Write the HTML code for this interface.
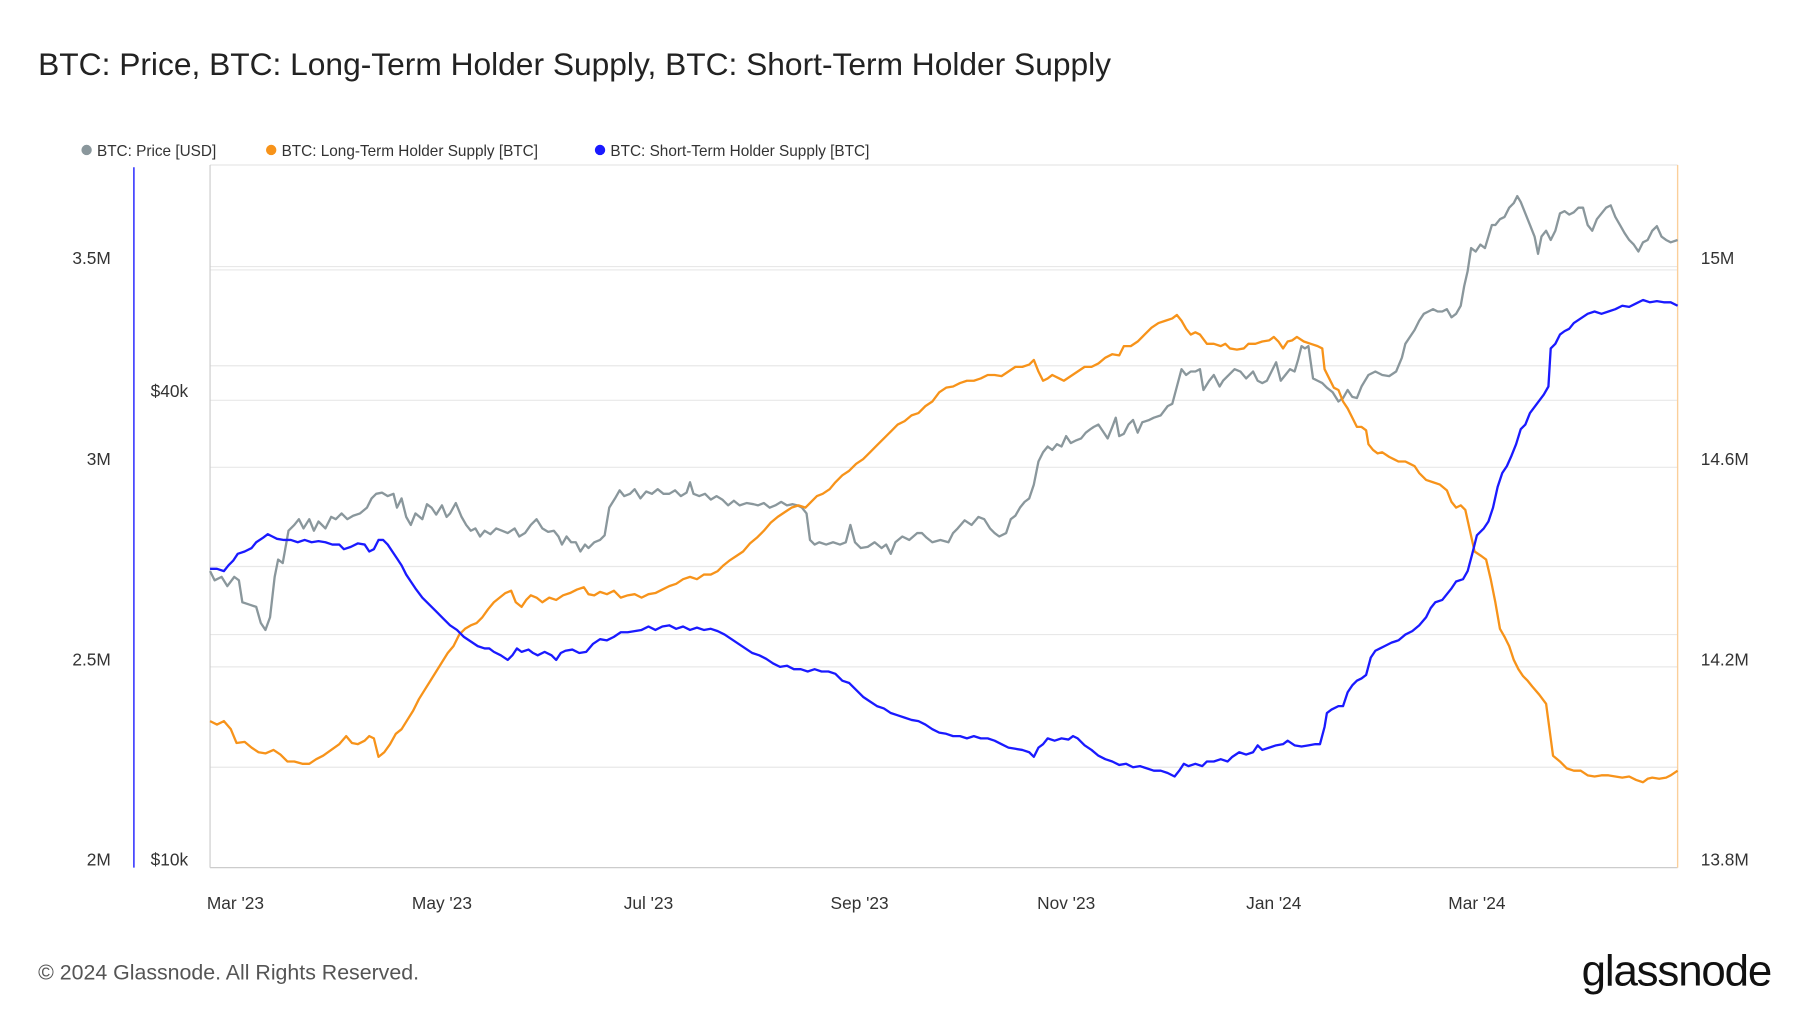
<!DOCTYPE html>
<html><head><meta charset="utf-8"><style>
html,body{margin:0;padding:0;background:#fff}
svg{display:block}
text{font-family:"Liberation Sans",sans-serif}
</style></head><body>
<svg width="1800" height="1013" viewBox="0 0 1560 878" xmlns="http://www.w3.org/2000/svg">
<text x="33" y="65" font-size="27.5" fill="#222">BTC: Price, BTC: Long-Term Holder Supply, BTC: Short-Term Holder Supply</text>
<circle cx="75" cy="130" r="4.5" fill="#8a979c"/><text x="84" y="135" font-size="13.3" fill="#333">BTC: Price [USD]</text>
<circle cx="235" cy="130" r="4.5" fill="#f7931a"/><text x="244" y="135" font-size="13.3" fill="#333">BTC: Long-Term Holder Supply [BTC]</text>
<circle cx="520" cy="130" r="4.5" fill="#1a1aff"/><text x="529" y="135" font-size="13.3" fill="#333">BTC: Short-Term Holder Supply [BTC]</text>
<g stroke="#e8e8e8" stroke-width="1">
<line x1="182" x2="1454" y1="231" y2="231"/><line x1="182" x2="1454" y1="234" y2="234"/>
<line x1="182" x2="1454" y1="317" y2="317"/><line x1="182" x2="1454" y1="347" y2="347"/>
<line x1="182" x2="1454" y1="405" y2="405"/><line x1="182" x2="1454" y1="491" y2="491"/>
<line x1="182" x2="1454" y1="550" y2="550"/>
<line x1="182" x2="1454" y1="578" y2="578"/><line x1="182" x2="1454" y1="665" y2="665"/>
<line x1="182" x2="1454" y1="143" y2="143"/>
</g>
<line x1="182" x2="182" y1="143" y2="752" stroke="#ccc"/>
<line x1="182" x2="1454" y1="752" y2="752" stroke="#ccc"/>
<line x1="116" x2="116" y1="145" y2="752" stroke="#1a1aff" stroke-width="1.2"/>
<line x1="1454" x2="1454" y1="143" y2="752" stroke="#fbcf9a" stroke-width="1.2"/>
<g font-size="15" fill="#333" text-anchor="end">
<text x="96" y="229">3.5M</text><text x="96" y="403">3M</text><text x="96" y="577">2.5M</text><text x="96" y="750">2M</text>
<text x="163" y="344">$40k</text><text x="163" y="750">$10k</text>
</g>
<g font-size="15" fill="#333">
<text x="1474" y="229">15M</text><text x="1474" y="403">14.6M</text><text x="1474" y="577">14.2M</text><text x="1474" y="750">13.8M</text>
</g>
<g font-size="15" fill="#333" text-anchor="middle">
<text x="204" y="788">Mar '23</text><text x="383" y="788">May '23</text><text x="562" y="788">Jul '23</text><text x="745" y="788">Sep '23</text><text x="924" y="788">Nov '23</text><text x="1104" y="788">Jan '24</text><text x="1280" y="788">Mar '24</text>
</g>
<g fill="none" stroke-width="2" stroke-linejoin="round">
<polyline stroke="#8a979c" points="182,495 186,503 192,500 197,508 203,500 207,503 210,522 216,524 222,526 226,540 230,546 234,535 238,500 241,485 245,488 250,460 255,455 259,450 263,458 268,450 272,460 276,452 282,458 287,448 291,450 296,445 301,450 306,447 312,445 318,440 322,432 326,428 331,427 336,430 341,428 344,440 348,432 352,448 356,455 360,445 366,450 370,437 374,440 378,446 383,438 387,448 390,445 395,436 400,448 404,455 408,460 412,458 416,465 420,460 425,463 430,458 435,460 440,462 446,458 450,465 455,462 460,455 465,450 470,458 475,461 480,460 484,465 487,472 491,465 495,470 499,470 503,478 507,472 510,475 515,470 520,468 524,464 528,440 533,432 537,425 541,430 546,428 550,424 555,432 560,426 565,428 570,424 575,428 580,428 585,425 590,430 595,427 598,418 601,428 606,430 611,428 616,433 621,430 626,433 631,438 636,434 641,438 647,436 653,437 657,438 662,436 667,440 672,438 677,435 682,438 687,437 691,438 695,440 699,445 702,468 706,472 710,470 716,472 722,470 728,472 733,470 737,455 741,470 746,475 752,474 758,470 764,475 768,472 772,480 776,470 782,465 788,468 795,462 799,462 803,466 808,470 815,468 822,470 826,462 830,458 836,451 842,455 848,448 853,450 858,458 862,462 866,465 872,462 876,450 880,447 884,440 888,435 892,432 896,420 900,400 904,392 908,387 912,390 916,385 920,387 924,378 928,384 932,382 937,380 941,375 945,372 948,370 952,368 956,374 960,380 964,370 967,362 970,378 974,376 978,368 982,364 986,375 990,366 996,364 1000,362 1006,360 1012,352 1016,350 1020,335 1024,320 1028,325 1032,322 1036,322 1040,320 1043,338 1048,330 1052,325 1057,335 1060,330 1065,325 1070,320 1075,322 1080,328 1086,322 1090,330 1094,332 1098,330 1102,322 1106,314 1110,330 1114,325 1118,320 1122,322 1125,312 1128,300 1131,302 1134,300 1138,328 1142,330 1146,332 1150,336 1155,340 1160,348 1164,345 1168,338 1172,344 1176,345 1180,335 1186,325 1192,322 1198,325 1204,326 1210,322 1215,310 1218,298 1222,292 1226,286 1230,278 1234,272 1238,270 1242,268 1246,270 1250,270 1254,268 1258,275 1262,272 1266,265 1269,248 1272,235 1275,215 1279,218 1283,212 1287,215 1290,205 1293,195 1296,195 1300,190 1304,188 1308,180 1312,176 1315,170 1318,175 1322,185 1326,195 1330,205 1333,220 1336,205 1340,200 1344,208 1348,200 1352,185 1356,183 1360,186 1364,184 1368,180 1372,180 1376,195 1380,200 1384,190 1388,185 1392,180 1396,178 1400,188 1404,195 1408,202 1412,208 1416,212 1420,218 1424,210 1428,208 1432,200 1436,196 1440,205 1444,208 1448,210 1454,208"/>
<polyline stroke="#f7931a" points="182,625 188,628 194,625 200,632 205,644 212,643 218,648 224,652 230,653 237,650 243,654 249,660 255,660 262,662 268,662 274,658 280,655 287,650 294,645 300,638 305,644 310,645 316,642 320,638 324,640 328,656 333,652 338,645 343,636 348,632 353,624 358,616 363,606 368,598 373,590 378,582 383,574 388,566 393,560 398,550 403,545 408,542 413,540 418,535 423,528 428,522 433,518 438,514 443,512 447,522 452,526 456,520 460,516 465,518 470,522 476,518 482,520 488,516 494,514 500,511 506,509 510,515 515,516 520,513 526,515 532,512 538,518 544,516 550,515 556,518 562,515 568,514 574,511 580,508 586,506 592,502 598,500 604,502 610,498 616,498 622,495 627,490 632,486 638,482 644,478 650,471 656,466 662,460 668,453 674,448 680,444 686,440 692,438 698,440 704,434 708,430 713,428 719,424 724,418 730,412 736,408 742,402 748,398 754,392 760,386 766,380 772,374 778,368 784,365 790,360 796,358 802,352 808,348 814,340 820,336 826,335 832,332 838,330 844,330 850,328 856,325 862,325 868,326 874,322 880,318 886,318 892,316 896,312 900,322 904,330 908,328 912,325 918,328 922,330 928,326 934,322 940,318 946,318 952,315 958,310 964,307 970,308 974,300 980,300 986,296 992,290 998,284 1004,280 1010,278 1016,276 1020,273 1024,278 1028,285 1032,290 1036,288 1040,290 1046,298 1052,298 1058,300 1062,298 1066,302 1072,303 1078,302 1082,298 1088,298 1094,296 1100,295 1104,292 1108,296 1112,302 1116,296 1120,295 1124,292 1130,296 1136,298 1142,300 1146,302 1148,320 1152,328 1156,336 1160,338 1164,348 1168,354 1172,362 1176,370 1180,370 1184,373 1186,385 1190,390 1194,393 1198,392 1204,396 1208,398 1212,400 1218,400 1222,402 1226,404 1230,410 1236,416 1242,418 1248,420 1254,425 1258,435 1262,440 1266,438 1270,442 1274,460 1278,478 1284,482 1288,485 1292,502 1296,522 1300,545 1304,552 1308,560 1312,572 1316,580 1320,586 1324,590 1328,595 1334,602 1340,610 1344,640 1346,655 1352,660 1358,666 1364,668 1370,668 1376,672 1382,673 1388,672 1394,672 1400,673 1406,674 1412,673 1418,676 1424,678 1428,675 1432,674 1438,675 1444,674 1448,672 1454,668"/>
<polyline stroke="#1a1aff" points="182,493 188,493 194,495 198,490 202,486 206,480 212,478 218,475 222,470 228,466 232,463 236,465 240,467 246,468 252,468 258,470 264,468 270,470 276,469 282,470 288,472 294,472 298,476 304,474 310,471 316,472 320,478 324,476 328,468 332,468 336,472 340,478 344,484 348,490 352,498 356,504 360,510 366,518 372,524 378,530 384,536 390,542 396,546 402,552 408,556 414,560 420,562 424,562 428,565 434,568 440,572 444,568 448,562 452,565 458,563 462,566 466,568 472,565 478,568 482,572 486,566 490,564 496,563 502,566 508,565 514,558 520,554 526,555 532,552 538,548 544,548 550,547 556,546 562,543 568,546 574,543 580,542 586,545 592,543 598,546 604,544 610,546 616,545 622,547 628,550 634,554 640,558 646,562 652,566 658,568 664,571 670,575 676,578 682,577 688,580 694,580 700,582 706,580 712,582 718,582 724,584 730,590 736,592 742,598 748,604 754,608 760,612 766,614 772,618 778,620 784,622 790,624 796,625 802,628 808,632 814,635 820,636 826,638 832,638 838,640 844,638 850,640 856,640 862,642 868,645 874,648 880,649 886,650 892,652 896,656 900,648 904,645 908,640 914,642 920,640 926,641 930,638 934,640 940,646 946,650 952,655 958,658 964,660 970,663 976,662 982,665 988,664 994,666 1000,668 1006,668 1012,670 1018,673 1022,668 1026,662 1030,664 1036,662 1042,664 1046,660 1052,660 1058,658 1064,660 1068,656 1074,652 1080,654 1086,652 1090,646 1094,650 1100,648 1106,646 1112,645 1116,642 1122,646 1128,647 1134,646 1140,645 1144,645 1148,630 1150,618 1154,615 1160,612 1164,612 1168,600 1172,594 1176,590 1180,588 1184,585 1188,570 1192,564 1196,562 1200,560 1206,557 1212,555 1218,550 1224,547 1230,542 1236,535 1240,527 1244,522 1250,520 1254,515 1258,510 1262,504 1268,502 1272,495 1276,480 1280,464 1286,458 1290,452 1294,440 1298,422 1302,410 1306,404 1310,395 1314,385 1318,372 1322,368 1326,358 1332,350 1338,342 1342,335 1344,302 1348,298 1352,290 1356,287 1360,285 1364,280 1370,276 1376,272 1382,270 1388,272 1394,270 1400,268 1406,265 1412,266 1418,263 1424,260 1430,262 1436,261 1442,262 1448,262 1454,265"/>
</g>
<text x="33" y="849" font-size="18.5" fill="#555">© 2024 Glassnode. All Rights Reserved.</text>
<text x="1535" y="854" font-size="38" fill="#111" text-anchor="end" letter-spacing="-1">glassnode</text>
</svg>
</body></html>
